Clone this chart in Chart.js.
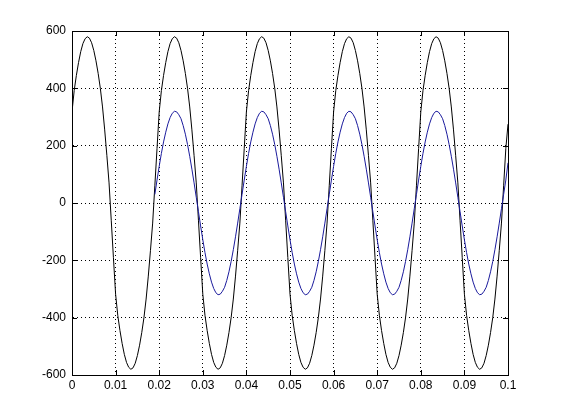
<!DOCTYPE html>
<html>
<head>
<meta charset="utf-8">
<script src="https://cdn.jsdelivr.net/npm/chart.js@4.4.0/dist/chart.umd.min.js"></script>
<style>
  html, body { margin: 0; padding: 0; background: #fff; }
  #wrap { width: 561px; height: 420px; }
</style>
</head>
<body>
<div id="wrap"><canvas id="c" width="561" height="420"></canvas></div>
<script>
// sample step of both traces (seconds)
const STEP = 0.0005;

// black trace, from t = 0 to t = 0.1
const blackStart = 0;
const blackVals = [
  318, 392, 445, 490, 528, 556, 573, 580, 575, 559, 532, 496, 452, 400, 335, 255, 165, 70, -60, -190,
  -318, -392, -445, -490, -528, -556, -573, -580, -575, -559, -532, -496, -452, -400, -335, -255, -165, -70, 60, 190,
  318, 392, 445, 490, 528, 556, 573, 580, 575, 559, 532, 496, 452, 400, 335, 255, 165, 70, -60, -190,
  -318, -392, -445, -490, -528, -556, -573, -580, -575, -559, -532, -496, -452, -400, -335, -255, -165, -70, 60, 190,
  318, 392, 445, 490, 528, 556, 573, 580, 575, 559, 532, 496, 452, 400, 335, 255, 165, 70, -60, -190,
  -318, -392, -445, -490, -528, -556, -573, -580, -575, -559, -532, -496, -452, -400, -335, -255, -165, -70, 60, 190,
  318, 392, 445, 490, 528, 556, 573, 580, 575, 559, 532, 496, 452, 400, 335, 255, 165, 70, -60, -190,
  -318, -392, -445, -490, -528, -556, -573, -580, -575, -559, -532, -496, -452, -400, -335, -255, -165, -70, 60, 190,
  318, 392, 445, 490, 528, 556, 573, 580, 575, 559, 532, 496, 452, 400, 335, 255, 165, 70, -60, -190,
  -318, -392, -445, -490, -528, -556, -573, -580, -575, -559, -532, -496, -452, -400, -335, -255, -165, -70, 60, 190,
  275
];

// blue trace, from t = 0.019 to t = 0.1
const blueStart = 0.019;
const blueVals = [
  30, 80, 128, 173, 213, 247, 276, 298, 313, 320, 318, 308, 294, 270, 240, 204, 163, 118, 70, 20,
  -30, -80, -128, -173, -213, -247, -276, -298, -313, -320, -318, -308, -294, -270, -240, -204, -163, -118, -70, -20,
  30, 80, 128, 173, 213, 247, 276, 298, 313, 320, 318, 308, 294, 270, 240, 204, 163, 118, 70, 20,
  -30, -80, -128, -173, -213, -247, -276, -298, -313, -320, -318, -308, -294, -270, -240, -204, -163, -118, -70, -20,
  30, 80, 128, 173, 213, 247, 276, 298, 313, 320, 318, 308, 294, 270, 240, 204, 163, 118, 70, 20,
  -30, -80, -128, -173, -213, -247, -276, -298, -313, -320, -318, -308, -294, -270, -240, -204, -163, -118, -70, -20,
  30, 80, 128, 173, 213, 247, 276, 298, 313, 320, 318, 308, 294, 270, 240, 204, 163, 118, 70, 20,
  -30, -80, -128, -173, -213, -247, -276, -298, -313, -320, -318, -308, -294, -270, -240, -204, -163, -118, -70, -20,
  30, 80, 140
];

const xTickLabels = ['0', '0.01', '0.02', '0.03', '0.04', '0.05', '0.06', '0.07', '0.08', '0.09', '0.1'];
const yTickLabels = ['-600', '-400', '-200', '0', '200', '400', '600'];

const toPoints = (start, vals) => vals.map((v, i) => ({ x: start + i * STEP, y: v }));

const fontSpec = { family: "'Liberation Sans', Arial, sans-serif", size: 12 };

// inward tick marks + full box, matlab style
const boxTicks = {
  id: 'boxTicks',
  afterDraw(chart) {
    const { ctx, chartArea: a, scales } = chart;
    const L = 5;
    ctx.save();
    ctx.strokeStyle = '#000';
    ctx.lineWidth = 1;
    ctx.beginPath();
    scales.x.ticks.forEach(t => {
      const px = Math.round(scales.x.getPixelForValue(t.value)) + 0.5;
      ctx.moveTo(px, a.bottom); ctx.lineTo(px, a.bottom - L);
      ctx.moveTo(px, a.top); ctx.lineTo(px, a.top + L);
    });
    scales.y.ticks.forEach(t => {
      const py = Math.round(scales.y.getPixelForValue(t.value)) + 0.5;
      ctx.moveTo(a.left, py); ctx.lineTo(a.left + L, py);
      ctx.moveTo(a.right, py); ctx.lineTo(a.right - L, py);
    });
    ctx.stroke();
    ctx.strokeRect(Math.round(a.left) + 0.5, Math.round(a.top) + 0.5,
                   Math.round(a.right - a.left), Math.round(a.bottom - a.top));
    ctx.restore();
  }
};

new Chart(document.getElementById('c'), {
  type: 'line',
  data: {
    datasets: [
      {
        data: toPoints(blueStart, blueVals),
        borderColor: '#1a1a9c',
        borderWidth: 1,
        pointRadius: 0,
        tension: 0,
        order: 1
      },
      {
        data: toPoints(blackStart, blackVals),
        borderColor: '#000',
        borderWidth: 1,
        pointRadius: 0,
        tension: 0,
        order: 2
      }
    ]
  },
  options: {
    responsive: false,
    animation: false,
    layout: { padding: { top: 31, right: 53, bottom: 0, left: 0 } },
    plugins: { legend: { display: false }, tooltip: { enabled: false } },
    scales: {
      x: {
        type: 'linear',
        min: 0, max: 0.1,
        afterBuildTicks: s => { s.ticks = xTickLabels.map(l => ({ value: parseFloat(l) })); },
        afterFit: s => { s.height = 45; },
        ticks: {
          color: '#000', font: fontSpec, padding: 3, maxRotation: 0,
          callback: (v, i) => xTickLabels[i]
        },
        grid: { color: '#000', lineWidth: 1, drawTicks: false },
        border: { color: '#000', width: 1, dash: [1, 3] }
      },
      y: {
        type: 'linear',
        min: -600, max: 600,
        afterBuildTicks: s => { s.ticks = yTickLabels.map(l => ({ value: parseFloat(l) })); },
        afterFit: s => { s.width = 72; },
        ticks: {
          color: '#000', font: fontSpec, padding: 6,
          callback: (v, i) => yTickLabels[i]
        },
        grid: { color: '#000', lineWidth: 1, drawTicks: false },
        border: { color: '#000', width: 1, dash: [1, 3] }
      }
    }
  },
  plugins: [boxTicks]
});
</script>
</body>
</html>
